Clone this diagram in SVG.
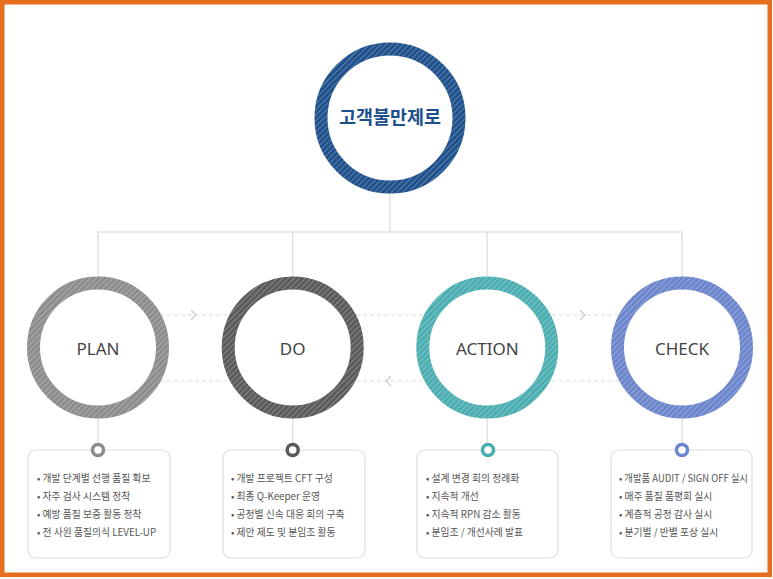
<svg xmlns="http://www.w3.org/2000/svg" width="773" height="579" viewBox="0 0 773 579">
<defs>
<pattern id="stripes" patternUnits="userSpaceOnUse" width="4" height="4" patternTransform="rotate(45)">
<rect x="0" y="0" width="1.2" height="4" fill="#ffffff" fill-opacity="0.25"/>
</pattern>
<style>
.ring{fill:#ffffff;stroke-width:13}
.stripe{fill:none;stroke:url(#stripes);stroke-width:13}
.tree{fill:none;stroke:#e2e2e2;stroke-width:1.5}
.dash{fill:none;stroke:#dcdcdc;stroke-width:1;stroke-dasharray:4 3}
.chev{fill:none;stroke:#cccccc;stroke-width:1.3}
.label{font-family:"Noto Sans","Noto Sans CJK KR",sans-serif;font-size:17px;fill:#444444;text-anchor:middle}
.box{fill:#ffffff;stroke:#dedede;stroke-width:1.2}
.dot{fill:#ffffff;stroke-width:3.5}
.item{font-family:"Noto Sans CJK KR","Noto Sans",sans-serif;font-size:9.8px;fill:#555555}
</style>
</defs>
<rect x="0" y="0" width="773" height="579" fill="#ffffff"/>
<rect x="2.25" y="2.25" width="767.5" height="572.5" fill="none" stroke="#e66e1e" stroke-width="4.5"/>

<g id="connectors">
<path class="tree" d="M390 193 V232 M98 277 V232 H682 V277 M292.7 232 V277 M487.3 232 V277"/>
<path class="tree" d="M98 418 V444 M292.7 418 V444 M487.3 418 V444 M682 418 V444"/>
<line class="dash" x1="160" y1="315" x2="620" y2="315"/>
<line class="dash" x1="160" y1="381" x2="620" y2="381"/>
<polyline class="chev" points="191,310 196,315 191,320"/>
<polyline class="chev" points="580,310 585,315 580,320"/>
<polyline class="chev" points="391,376 386,381 391,386"/>
</g>

<g id="main">
<circle class="ring" cx="390" cy="118" r="69" stroke="#1d4f8b"/>
<circle class="stripe" cx="390" cy="118" r="69"/>
<text x="390" y="124" text-anchor="middle" font-family="'Noto Sans CJK KR',sans-serif" font-size="18.5" font-weight="bold" fill="#1d4f8b">고객불만제로</text>
</g>

<g id="plan">
<circle class="ring" cx="98" cy="347.5" r="64.5" stroke="#8c8c8c"/>
<circle class="stripe" cx="98" cy="347.5" r="64.5"/>
<text class="label" x="98" y="355">PLAN</text>
<rect class="box" x="28" y="450" width="142" height="108" rx="8"/>
<circle class="dot" cx="98" cy="450" r="5.5" stroke="#8c8c8c"/>
<text class="item" x="37" y="482">• 개발 단계별 선행 품질 확보</text>
<text class="item" x="37" y="500">• 자주 검사 시스템 정착</text>
<text class="item" x="37" y="518">• 예방 품질 보증 활동 정착</text>
<text class="item" x="37" y="536">• 전 사원 품질의식 LEVEL-UP</text>
</g>

<g id="do">
<circle class="ring" cx="292.7" cy="347.5" r="64.5" stroke="#595959"/>
<circle class="stripe" cx="292.7" cy="347.5" r="64.5"/>
<text class="label" x="292.7" y="355">DO</text>
<rect class="box" x="223" y="450" width="142" height="108" rx="8"/>
<circle class="dot" cx="292.7" cy="450" r="5.5" stroke="#595959"/>
<text class="item" x="231" y="482">• 개발 프로젝트 CFT 구성</text>
<text class="item" x="231" y="500">• 최종 Q-Keeper 운영</text>
<text class="item" x="231" y="518">• 공정별 신속 대응 회의 구축</text>
<text class="item" x="231" y="536">• 제안 제도 및 분임조 활동</text>
</g>

<g id="action">
<circle class="ring" cx="487.3" cy="347.5" r="64.5" stroke="#4aadb0"/>
<circle class="stripe" cx="487.3" cy="347.5" r="64.5"/>
<text class="label" x="487.3" y="355">ACTION</text>
<rect class="box" x="417" y="450" width="141" height="108" rx="8"/>
<circle class="dot" cx="488" cy="450" r="5.5" stroke="#4aadb0"/>
<text class="item" x="426" y="482">• 설계 변경 회의 정례화</text>
<text class="item" x="426" y="500">• 지속적 개선</text>
<text class="item" x="426" y="518">• 지속적 RPN 감소 활동</text>
<text class="item" x="426" y="536">• 분임조 / 개선사례 발표</text>
</g>

<g id="check">
<circle class="ring" cx="682" cy="347.5" r="64.5" stroke="#6b85cc"/>
<circle class="stripe" cx="682" cy="347.5" r="64.5"/>
<text class="label" x="682" y="355">CHECK</text>
<rect class="box" x="611" y="450" width="141" height="108" rx="8"/>
<circle class="dot" cx="682" cy="450" r="5.5" stroke="#6b85cc"/>
<text class="item" x="619" y="482" textLength="129" lengthAdjust="spacingAndGlyphs">• 개발품 AUDIT / SIGN OFF 실시</text>
<text class="item" x="619" y="500">• 매주 품질 품평회 실시</text>
<text class="item" x="619" y="518">• 계층적 공정 감사 실시</text>
<text class="item" x="619" y="536">• 분기별 / 반별 포상 실시</text>
</g>
</svg>
